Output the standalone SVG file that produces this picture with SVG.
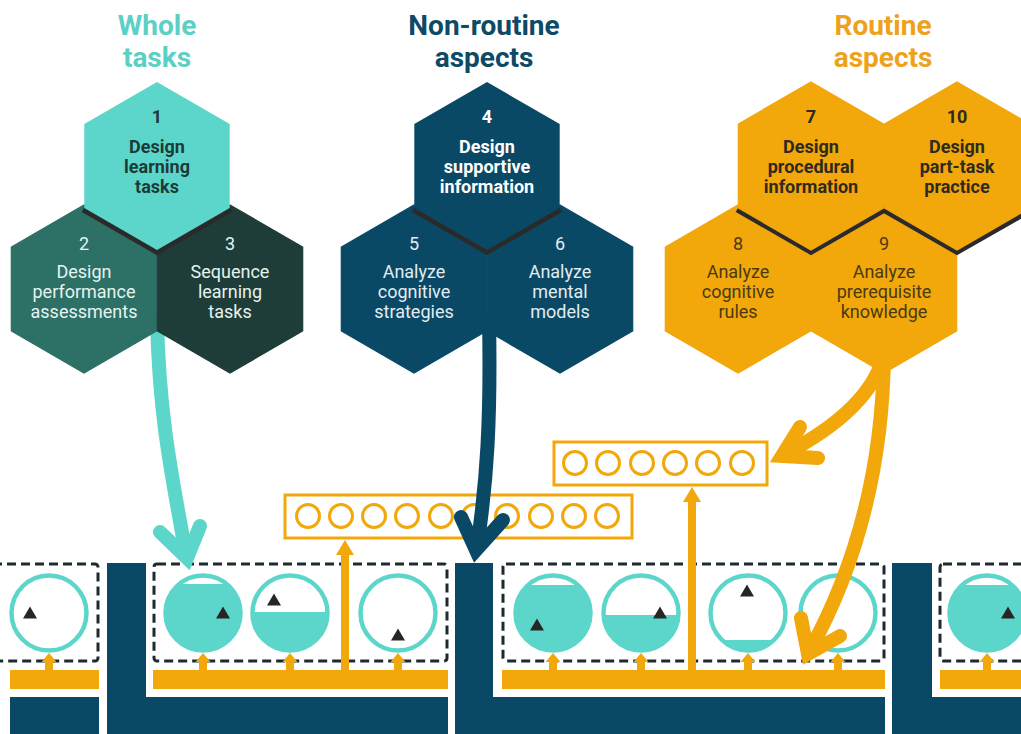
<svg xmlns="http://www.w3.org/2000/svg" width="1021" height="734" viewBox="0 0 1021 734">
<style>
.tt{font-family:Roboto,"Liberation Sans",sans-serif;font-size:28px;font-weight:bold;text-anchor:middle}
.hx{font-family:Roboto,"Liberation Sans",sans-serif;font-size:18px;text-anchor:middle}
.b{font-weight:bold}
.ring{fill:#fff;stroke:#5cd6ca;stroke-width:4.5}
.fill{fill:#5cd6ca}
.dash{fill:none;stroke:#1d2a30;stroke-width:3;stroke-dasharray:9 5}
.obox{fill:#fff;stroke:#f2a70a;stroke-width:3}
.oc{fill:none;stroke:#f2a70a;stroke-width:3}
.navy{fill:#0a4966}
.bar{fill:#f2a70a}
.arr{fill:none;stroke-width:14;stroke-linecap:round;stroke-linejoin:miter;stroke-miterlimit:10}
.shadow{fill:none;stroke:#2a2a2a;stroke-width:9}
.hs{stroke-width:1.2}
</style>
<defs>
<polygon id="hex" points="0,-84 72.7,-42 72.7,42 0,84 -72.7,42 -72.7,-42"/>
<path id="tri" d="M0,-6.5 L7,5.5 L-7,5.5 Z" fill="#262626"/>
<path id="up" d="M0,-17 L7.5,-8 L4,-8 L4,0 L-4,0 L-4,-8 L-7.5,-8 Z" fill="#f2a70a"/>
<clipPath id="cin"><circle r="36"/></clipPath>
</defs>

<g id="lanes">
<rect class="navy" x="10" y="697" width="89" height="37"/>
<path class="navy" d="M107,563 H146 V697 H448 V734 H107 Z"/>
<path class="navy" d="M455,563 H493 V697 H885 V734 H455 Z"/>
<path class="navy" d="M892,563 H932 V697 H1021 V734 H892 Z"/>
<rect class="bar" x="10" y="670" width="89" height="19"/>
<rect class="bar" x="153" y="670" width="295" height="19"/>
<rect class="bar" x="502" y="670" width="383" height="19"/>
<rect class="bar" x="940" y="670" width="81" height="19"/>
<rect class="dash" x="-10" y="564" width="108" height="97" rx="3"/>
<rect class="dash" x="154" y="564" width="293" height="97" rx="3"/>
<rect class="dash" x="503" y="564" width="381" height="97" rx="3"/>
<rect class="dash" x="940" y="564" width="100" height="97" rx="3"/>
<use href="#up" x="49" y="670"/>
<use href="#up" x="203" y="670"/>
<use href="#up" x="290" y="670"/>
<use href="#up" x="398" y="670"/>
<use href="#up" x="553" y="670"/>
<use href="#up" x="641" y="670"/>
<use href="#up" x="748" y="670"/>
<use href="#up" x="838" y="670"/>
<use href="#up" x="987" y="670"/>
</g>

<g id="task-1" transform="translate(49,613)"><circle class="ring" r="37.5"/><use href="#tri" x="-19" y="0"/></g>
<g id="task-2" transform="translate(203,613)"><circle class="ring" r="37.5"/><rect class="fill" x="-40" y="-29" width="80" height="70" clip-path="url(#cin)"/><use href="#tri" x="20" y="0"/></g>
<g id="task-3" transform="translate(290,613)"><circle class="ring" r="37.5"/><rect class="fill" x="-40" y="-1" width="80" height="45" clip-path="url(#cin)"/><use href="#tri" x="-16" y="-13"/></g>
<g id="task-4" transform="translate(398,613)"><circle class="ring" r="37.5"/><use href="#tri" x="0" y="22"/></g>
<g id="task-5" transform="translate(553,613)"><circle class="ring" r="37.5"/><rect class="fill" x="-40" y="-28" width="80" height="70" clip-path="url(#cin)"/><use href="#tri" x="-16" y="12"/></g>
<g id="task-6" transform="translate(641,613)"><circle class="ring" r="37.5"/><rect class="fill" x="-40" y="2" width="80" height="45" clip-path="url(#cin)"/><use href="#tri" x="19" y="0"/></g>
<g id="task-7" transform="translate(748,613)"><circle class="ring" r="37.5"/><rect class="fill" x="-40" y="27" width="80" height="20" clip-path="url(#cin)"/><use href="#tri" x="-1" y="-22"/></g>
<g id="task-8" transform="translate(838,613)"><circle class="ring" r="37.5"/></g>
<g id="task-9" transform="translate(987,613)"><circle class="ring" r="37.5"/><rect class="fill" x="-40" y="-28" width="80" height="70" clip-path="url(#cin)"/><use href="#tri" x="21" y="0"/></g>

<g id="practice-box-1">
<rect class="obox" x="285" y="495" width="347" height="43"/>
<circle class="oc" cx="308" cy="516" r="11.5"/><circle class="oc" cx="341" cy="516" r="11.5"/><circle class="oc" cx="374" cy="516" r="11.5"/><circle class="oc" cx="407" cy="516" r="11.5"/><circle class="oc" cx="441" cy="516" r="11.5"/><circle class="oc" cx="474" cy="516" r="11.5"/><circle class="oc" cx="507" cy="516" r="11.5"/><circle class="oc" cx="541" cy="516" r="11.5"/><circle class="oc" cx="574" cy="516" r="11.5"/><circle class="oc" cx="607" cy="516" r="11.5"/>
</g>
<g id="practice-box-2">
<rect class="obox" x="554" y="442" width="213" height="43"/>
<circle class="oc" cx="575" cy="463" r="11.5"/><circle class="oc" cx="608" cy="463" r="11.5"/><circle class="oc" cx="642" cy="463" r="11.5"/><circle class="oc" cx="675" cy="463" r="11.5"/><circle class="oc" cx="708" cy="463" r="11.5"/><circle class="oc" cx="742" cy="463" r="11.5"/>
</g>

<g id="connectors">
<rect class="bar" x="341" y="553" width="8" height="117"/>
<polygon class="bar" points="345,540 354,555 336,555"/>
<rect class="bar" x="688" y="500" width="8" height="170"/>
<polygon class="bar" points="692,487 701,502 683,502"/>
<path class="arr" stroke="#5cd6ca" d="M157,318 C159,420 173,480 186,555"/>
<polyline class="arr" stroke="#5cd6ca" points="160,532 187,558 200,526"/>
<path class="arr" stroke="#0a4966" d="M489,318 C491,420 487,480 477,548"/>
<polyline class="arr" stroke="#0a4966" points="461,517 476,550 503,520"/>
<path class="arr" stroke="#f2a70a" d="M884,355 Q870,410 783,455"/>
<polyline class="arr" stroke="#f2a70a" points="800,427 782,456 818,458"/>
<path class="arr" stroke="#f2a70a" d="M884,355 Q882,520 809,652"/>
<polyline class="arr" stroke="#f2a70a" points="801,618 808,654 840,636"/>
</g>

<g id="hex-2"><use href="#hex" class="hs" x="84" y="289" fill="#2d7066" stroke="#2d7066"/>
<text class="hx" fill="#e6f3f0"><tspan x="84" y="250">2</tspan><tspan x="84" y="278">Design</tspan><tspan x="84" y="298">performance</tspan><tspan x="84" y="318">assessments</tspan></text></g>
<g id="hex-3"><use href="#hex" class="hs" x="230" y="289" fill="#1e3d39" stroke="#1e3d39"/>
<text class="hx" fill="#e6f3f0"><tspan x="230" y="250">3</tspan><tspan x="230" y="278">Sequence</tspan><tspan x="230" y="298">learning</tspan><tspan x="230" y="318">tasks</tspan></text></g>
<polyline class="shadow" points="84,208 157,250 230,208"/>
<g id="hex-1"><use href="#hex" x="157" y="166" fill="#5cd6ca"/>
<text class="hx b" fill="#1c3b37"><tspan x="157" y="123">1</tspan><tspan x="157" y="153">Design</tspan><tspan x="157" y="173">learning</tspan><tspan x="157" y="193">tasks</tspan></text></g>

<g id="hex-5"><use href="#hex" class="hs" x="414" y="289" fill="#0a4966" stroke="#0a4966"/>
<text class="hx" fill="#e3ecf1"><tspan x="414" y="250">5</tspan><tspan x="414" y="278">Analyze</tspan><tspan x="414" y="298">cognitive</tspan><tspan x="414" y="318">strategies</tspan></text></g>
<g id="hex-6"><use href="#hex" class="hs" x="560" y="289" fill="#0a4966" stroke="#0a4966"/>
<text class="hx" fill="#e3ecf1"><tspan x="560" y="250">6</tspan><tspan x="560" y="278">Analyze</tspan><tspan x="560" y="298">mental</tspan><tspan x="560" y="318">models</tspan></text></g>
<polyline class="shadow" points="414,208 487,250 560,208"/>
<g id="hex-4"><use href="#hex" x="487" y="166" fill="#0a4966"/>
<text class="hx b" fill="#ffffff"><tspan x="487" y="123">4</tspan><tspan x="487" y="153">Design</tspan><tspan x="487" y="173">supportive</tspan><tspan x="487" y="193">information</tspan></text></g>

<g id="hex-8"><use href="#hex" class="hs" x="738" y="289" fill="#f2a70a" stroke="#f2a70a"/>
<text class="hx" fill="#4a3a12"><tspan x="738" y="250">8</tspan><tspan x="738" y="278">Analyze</tspan><tspan x="738" y="298">cognitive</tspan><tspan x="738" y="318">rules</tspan></text></g>
<g id="hex-9"><use href="#hex" class="hs" x="884" y="289" fill="#f2a70a" stroke="#f2a70a"/>
<text class="hx" fill="#4a3a12"><tspan x="884" y="250">9</tspan><tspan x="884" y="278">Analyze</tspan><tspan x="884" y="298">prerequisite</tspan><tspan x="884" y="318">knowledge</tspan></text></g>
<polyline class="shadow" points="738,208 811,250 884,208 957,250 1031,208"/>
<g id="hex-7"><use href="#hex" class="hs" x="811" y="166" fill="#f2a70a" stroke="#f2a70a"/>
<text class="hx b" fill="#2e2a1e"><tspan x="811" y="123">7</tspan><tspan x="811" y="153">Design</tspan><tspan x="811" y="173">procedural</tspan><tspan x="811" y="193">information</tspan></text></g>
<g id="hex-10"><use href="#hex" class="hs" x="957" y="166" fill="#f2a70a" stroke="#f2a70a"/>
<text class="hx b" fill="#2e2a1e"><tspan x="957" y="123">10</tspan><tspan x="957" y="153">Design</tspan><tspan x="957" y="173">part-task</tspan><tspan x="957" y="193">practice</tspan></text></g>

<g id="titles">
<text class="tt" fill="#5cd0c4"><tspan x="157" y="35">Whole</tspan><tspan x="157" y="67">tasks</tspan></text>
<text class="tt" fill="#0d4a66"><tspan x="484" y="35">Non-routine</tspan><tspan x="484" y="67">aspects</tspan></text>
<text class="tt" fill="#eea21a"><tspan x="883" y="35">Routine</tspan><tspan x="883" y="67">aspects</tspan></text>
</g>
</svg>
